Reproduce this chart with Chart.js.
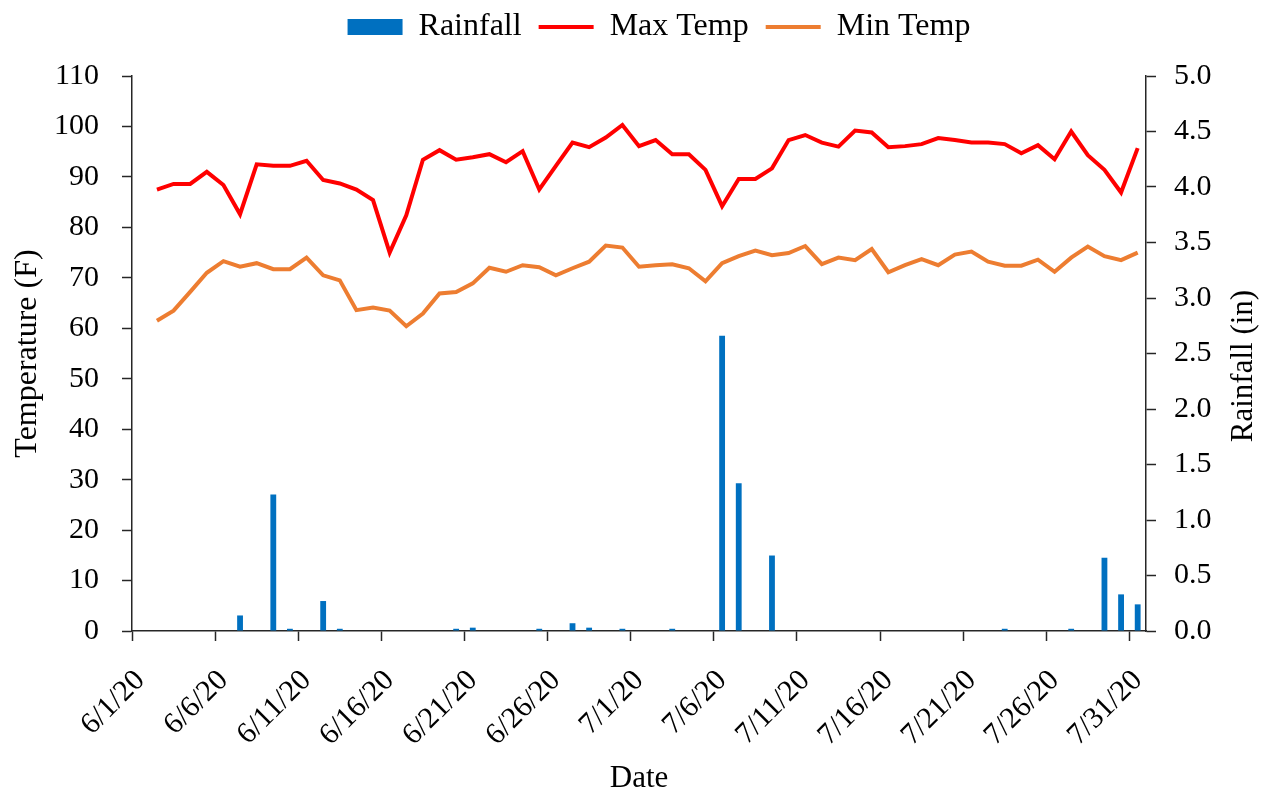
<!DOCTYPE html>
<html>
<head>
<meta charset="utf-8">
<script src="https://cdn.jsdelivr.net/npm/chart.js@4"></script>
<style>
  body { margin: 0; background: #fff; }
  canvas { display: block; }
</style>
</head>
<body>
<canvas id="myChart" width="1274" height="797"></canvas>
<script>
'use strict';
let dates = ['6/1/20', '6/2/20', '6/3/20', '6/4/20', '6/5/20', '6/6/20', '6/7/20', '6/8/20', '6/9/20', '6/10/20',
    '6/11/20', '6/12/20', '6/13/20', '6/14/20', '6/15/20', '6/16/20', '6/17/20', '6/18/20', '6/19/20', '6/20/20',
    '6/21/20', '6/22/20', '6/23/20', '6/24/20', '6/25/20', '6/26/20', '6/27/20', '6/28/20', '6/29/20', '6/30/20',
    '7/1/20', '7/2/20', '7/3/20', '7/4/20', '7/5/20', '7/6/20', '7/7/20', '7/8/20', '7/9/20', '7/10/20',
    '7/11/20', '7/12/20', '7/13/20', '7/14/20', '7/15/20', '7/16/20', '7/17/20', '7/18/20', '7/19/20', '7/20/20',
    '7/21/20', '7/22/20', '7/23/20', '7/24/20', '7/25/20', '7/26/20', '7/27/20', '7/28/20', '7/29/20', '7/30/20',
    '7/31/20'];

let maxTemp = [null, 87.5, 88.6, 88.6, 91.0, 88.4, 82.6, 92.5, 92.2, 92.2,
    93.2, 89.4, 88.7, 87.5, 85.4, 75.0, 82.4, 93.4, 95.3, 93.4,
    93.9, 94.5, 92.9, 95.1, 87.5, 92.2, 96.8, 95.9, 97.8, 100.3,
    96.1, 97.3, 94.5, 94.5, 91.4, 84.2, 89.6, 89.6, 91.7, 97.3,
    98.3, 96.8, 96.0, 99.2, 98.8, 95.9, 96.1, 96.5, 97.7, 97.3,
    96.8, 96.8, 96.5, 94.7, 96.3, 93.5, 99.0, 94.3, 91.4, 86.9,
    95.7];

let minTemp = [null, 61.5, 63.5, 67.2, 71.0, 73.3, 72.2, 72.9, 71.7, 71.7,
    74.0, 70.5, 69.5, 63.6, 64.1, 63.5, 60.4, 62.9, 66.9, 67.2,
    68.9, 72.0, 71.2, 72.5, 72.1, 70.5, 71.9, 73.2, 76.4, 76.0,
    72.2, 72.5, 72.7, 71.9, 69.3, 72.9, 74.3, 75.4, 74.5, 74.9,
    76.3, 72.7, 74.0, 73.5, 75.7, 71.1, 72.5, 73.7, 72.5, 74.6,
    75.2, 73.2, 72.4, 72.4, 73.6, 71.2, 74.0, 76.2, 74.3, 73.5,
    75.0];

let rainfall = [null, 0, 0, 0, 0, 0, 0.14, 0, 1.23, 0.02,
    0, 0.27, 0.02, 0, 0, 0, 0, 0, 0, 0.02,
    0.03, 0, 0, 0, 0.02, 0, 0.07, 0.03, 0, 0.02,
    0, 0, 0.02, 0, 0, 2.66, 1.33, 0, 0.68, 0,
    0, 0, 0, 0, 0, 0, 0, 0, 0, 0,
    0, 0, 0.02, 0, 0, 0, 0.02, 0, 0.66, 0.33,
    0.24];

let tempTicks = [0, 110, 10];
let rainTicks = [0, 5, 0.5];
let rainTitle = 'Rainfall (in)';

let serif = 'Liberation Serif';
let axisColor = '#262626';

Chart.defaults.font.family = serif;
Chart.defaults.color = '#000';

// legend needs extra room below it, and sits a bit right of centre
let legendRoom = {
    id: 'legendRoom',
    beforeInit: function (chart) {
        let lg = chart.legend;
        if (!lg) return;
        let fit = lg.fit;
        lg.fit = function () {
            fit.call(this);
            this.height = 82;
        };
        let draw = lg.draw;
        lg.draw = function () {
            let c = this.ctx;
            c.save();
            c.translate(22, 0);
            draw.apply(this, arguments);
            c.restore();
        };
    }
};

// right axis title reads bottom to top in the original
let rightTitle = {
    id: 'rightTitle',
    afterDraw: function (chart) {
        let c = chart.ctx;
        c.save();
        c.translate(1244, 366);
        c.rotate(-Math.PI / 2);
        c.font = '31px "' + serif + '"';
        c.fillStyle = '#000';
        c.textAlign = 'center';
        c.textBaseline = 'middle';
        c.fillText(rainTitle, 0, 0);
        c.restore();
    }
};

let ctx = document.getElementById('myChart').getContext('2d');
let myChart = new Chart(ctx, {
    type: 'bar',
    data: {
        labels: dates,
        datasets: [{
            label: 'Rainfall',
            data: rainfall,
            yAxisID: 'y1',
            backgroundColor: '#0070C0',
            borderWidth: 0,
            barPercentage: 0.35,
            categoryPercentage: 1.0,
            pointStyle: 'rect',
            order: 3
        },
        {
            type: 'line',
            label: 'Max Temp',
            data: maxTemp,
            yAxisID: 'y',
            borderColor: '#FF0000',
            backgroundColor: '#FF0000',
            borderWidth: 4,
            pointRadius: 0,
            tension: 0,
            pointStyle: 'line',
            order: 1
        },
        {
            type: 'line',
            label: 'Min Temp',
            data: minTemp,
            yAxisID: 'y',
            borderColor: '#ED7D31',
            backgroundColor: '#ED7D31',
            borderWidth: 4,
            pointRadius: 0,
            tension: 0,
            pointStyle: 'line',
            order: 2
        }]
    },
    options: {
        responsive: false,
        animation: false,
        layout: {
            padding: { top: -6, left: 0, right: 0, bottom: 0 }
        },
        plugins: {
            tooltip: { enabled: false },
            legend: {
                position: 'top',
                labels: {
                    usePointStyle: true,
                    pointStyleWidth: 55,
                    boxHeight: 16,
                    padding: 17,
                    font: { size: 32 },
                    color: '#000',
                    sort: function (a, b) { return a.datasetIndex - b.datasetIndex; }
                }
            }
        },
        scales: {
            x: {
                offset: true,
                grid: {
                    offset: true,
                    drawOnChartArea: false,
                    tickLength: 10,
                    tickWidth: 1.5,
                    tickColor: function (c) {
                        return (c.index !== undefined && c.index % 5 === 0) ? axisColor : 'rgba(0,0,0,0)';
                    }
                },
                border: { color: axisColor, width: 1.5 },
                ticks: {
                    autoSkip: false,
                    maxRotation: 45,
                    minRotation: 45,
                    padding: 22,
                    font: { size: 30 },
                    color: '#000',
                    callback: function (val, i) {
                        return i % 5 === 0 ? dates[i] : '';
                    }
                },
                title: {
                    display: true,
                    text: 'Date',
                    font: { size: 31 },
                    color: '#000',
                    padding: { top: 0, bottom: 0 }
                },
                afterFit: function (scale) { scale.height = 166; }
            },
            y: {
                position: 'left',
                min: tempTicks[0],
                max: tempTicks[1],
                ticks: {
                    stepSize: tempTicks[2],
                    padding: 23,
                    font: { size: 30 },
                    color: '#000'
                },
                grid: {
                    drawOnChartArea: false,
                    tickLength: 10,
                    tickWidth: 1.5,
                    tickColor: axisColor
                },
                border: { color: axisColor, width: 1.5 },
                title: {
                    display: true,
                    text: 'Temperature (F)',
                    font: { size: 32 },
                    color: '#000',
                    padding: { top: 8, bottom: 0 }
                },
                afterFit: function (scale) { scale.width = 132; }
            },
            y1: {
                position: 'right',
                min: rainTicks[0],
                max: rainTicks[1],
                ticks: {
                    stepSize: rainTicks[2],
                    padding: 18,
                    font: { size: 30 },
                    color: '#000',
                    callback: function (v) { return v.toFixed(1); }
                },
                grid: {
                    drawOnChartArea: false,
                    tickLength: 10,
                    tickWidth: 1.5,
                    tickColor: axisColor
                },
                border: { color: axisColor, width: 1.5 },
                afterFit: function (scale) { scale.width = 128; }
            }
        }
    },
    plugins: [legendRoom, rightTitle]
});
</script>
</body>
</html>
